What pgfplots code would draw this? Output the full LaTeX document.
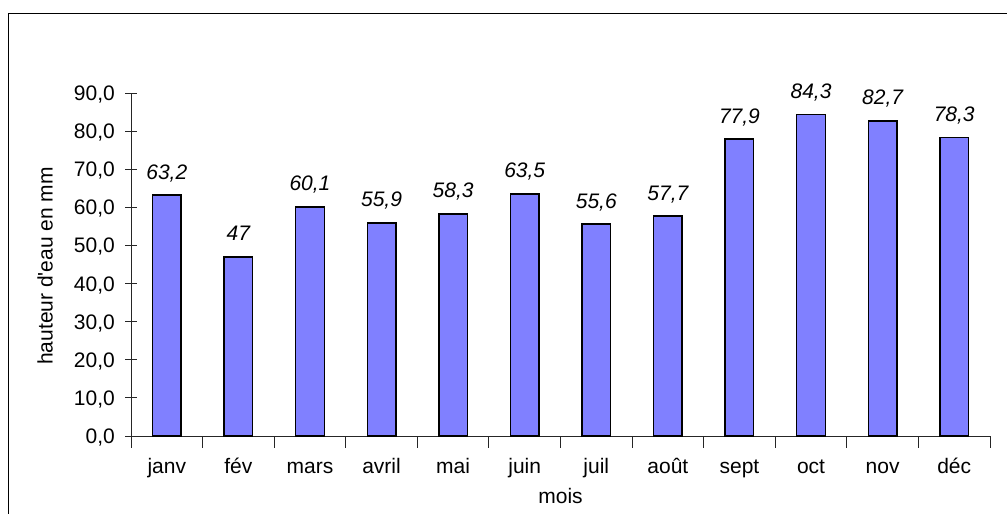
\documentclass[border=0pt]{standalone}
\usepackage{fontspec}
\setmainfont{Liberation Sans}[Ligatures=TeXOff]
\usepackage{pgfplots}
\pgfplotsset{compat=1.18}
\definecolor{barblue}{RGB}{128,128,255}
\begin{document}
\begin{tikzpicture}[x=1pt,y=1pt]
\useasboundingbox (0,0) rectangle (1007,514);
\draw[line width=1pt] (8,0) -- (8,500) -- (1007,500);
\begin{axis}[
  at={(131pt,78pt)}, anchor=south west,
  scale only axis, width=859pt, height=343pt,
  xmin=-0.5, xmax=11.5, ymin=0, ymax=90,
  axis x line*=bottom, axis y line*=left,
  axis line style={line width=0.9pt, draw=black!85},
  font=\fontsize{21}{25}\selectfont,
  xtick={0,...,11},
  xticklabels={janv,fév,mars,avril,mai,juin,juil,août,sept,oct,nov,déc},
  major x tick style={draw=none},
  minor xtick={-0.5,0.5,...,11.5},
  ytick={0,10,...,90},
  tick align=center,
  major tick length=12pt, minor tick length=12pt,
  tick style={line width=0.9pt, draw=black!85},
  xticklabel style={anchor=base, yshift=-26pt},
  yticklabel style={anchor=base east, inner sep=0pt, xshift=-10pt, yshift=-7.5pt,
    /pgf/number format/.cd, fixed, fixed zerofill, precision=1, use comma, assume math mode=true},
  xlabel={mois}, ylabel={hauteur d'eau en mm},
  x label style={at={(axis description cs:0.5,-0.175)}, anchor=center},
  y label style={at={(axis description cs:-0.1,0.496)}, anchor=center, rotate=0},
  ybar, bar width=0.4,
  nodes near coords={\pgfmathprintnumber[fixed,precision=1,use comma,assume math mode=true]{\pgfplotspointmeta}},
  every node near coord/.append style={font=\fontsize{21}{25}\selectfont\itshape, anchor=base, inner sep=0pt, yshift=16pt},
  clip=false,
]
\addplot[fill=barblue, draw=black, line width=1.4pt] coordinates {
  (0,63.2) (1,47) (2,60.1) (3,55.9) (4,58.3) (5,63.5)
  (6,55.6) (7,57.7) (8,77.9) (9,84.3) (10,82.7) (11,78.3)
};
\end{axis}
\end{tikzpicture}
\end{document}
